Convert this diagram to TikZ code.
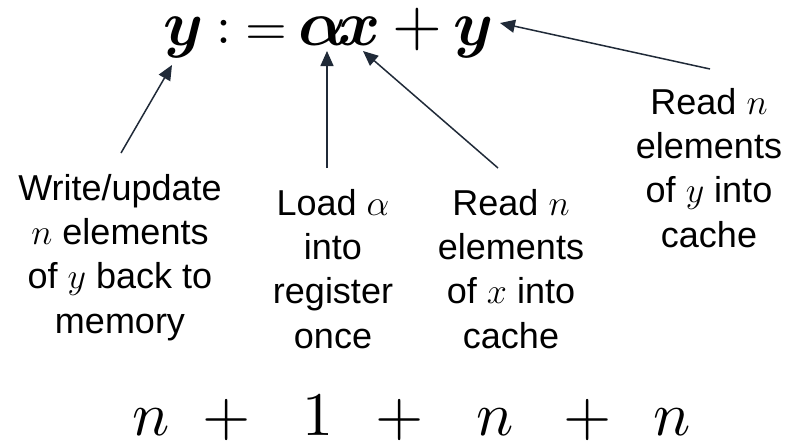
\documentclass[tikz,border=0pt]{standalone}
\usepackage{amsmath,bm}
\usepackage[no-math]{fontspec}
\setmainfont{Liberation Sans}
\usetikzlibrary{arrows.meta}
\definecolor{arrowc}{RGB}{32,42,56}
\newcommand{\myassign}{\mathrel{\vcenter{\hbox{$:$}}\mkern-0.5mu=}}
\begin{document}
\begin{tikzpicture}[x=1pt,y=-1pt,
  eqtop/.style={inner sep=0pt, anchor=base, font=\fontsize{10}{12}\selectfont, scale=6.4, transform shape},
  eqbot/.style={inner sep=0pt, anchor=base, font=\fontsize{10}{12}\selectfont, scale=6.2, transform shape},
  lbl/.style={inner sep=0pt, align=center, anchor=base, font=\fontsize{12}{14.67}\selectfont, scale=3, transform shape},
  arr/.style={draw=arrowc, line width=1.5pt, -{Triangle[length=15pt,width=13pt]}}]
\useasboundingbox (0,0) rectangle (788,442);
% top equation
\node[eqtop] (y1) at (184,45) {$\bm{y}$};
\node[eqtop, scale=0.84] (as) at (252,45) {$\myassign$};
\node[eqtop] (al) at (323,45) {$\bm{\alpha}$};
\node[eqtop] (xx) at (360,45) {$\bm{x}$};
\node[eqtop] (pl) at (417,45) {$+$};
\node[eqtop] (y2) at (474,45) {$\bm{y}$};
% labels (anchor = baseline of the last line)
\node[lbl] (wl) at (120,333) {Write/update\\$n$ elements\\of $y$ back to\\memory};
\node[lbl] (ld) at (333,348) {Load $\alpha$\\into\\register\\once};
\node[lbl] (rx) at (511,348) {Read $n$\\elements\\of $x$ into\\cache};
\node[lbl] (ry) at (709,247) {Read $n$\\elements\\of $y$ into\\cache};
% arrow ends
\coordinate (h1) at (172,65);  \coordinate (t1) at (121,153);
\coordinate (h2) at (327,51);  \coordinate (t2) at (327,168);
\coordinate (h3) at (363,51);  \coordinate (t3) at (498,168);
\coordinate (h4) at (500,23);  \coordinate (t4) at (710,69);
\draw[arr] (t1) -- (h1);
\draw[arr] (t2) -- (h2);
\draw[arr] (t3) -- (h3);
\draw[arr] (t4) -- (h4);
% bottom equation
\node[eqbot] (b1) at (151,435) {$n$};
\node[eqbot] (b2) at (227,435) {$+$};
\node[eqbot] (b3) at (318,435) {$1$};
\node[eqbot] (b4) at (400,435) {$+$};
\node[eqbot] (b5) at (495,435) {$n$};
\node[eqbot] (b6) at (588,435) {$+$};
\node[eqbot] (b7) at (672,435) {$n$};
\end{tikzpicture}
\end{document}
